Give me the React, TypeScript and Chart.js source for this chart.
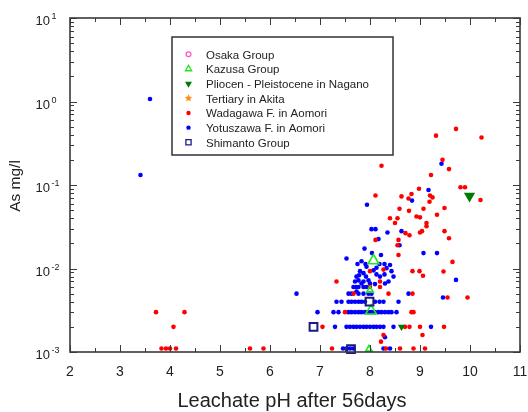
import React, { useEffect, useRef } from "react";
import { Chart, registerables } from "chart.js";

Chart.register(...registerables);

// ---------------- data ----------------
const xTickValues = [2, 3, 4, 5, 6, 7, 8, 9, 10, 11];
const xMinorTickValues = [2.5, 3.5, 4.5, 5.5, 6.5, 7.5, 8.5, 9.5, 10.5];
const yDecadeExponents = [-3, -2, -1, 0, 1];

const seriesLabels = [
  "Osaka Group",
  "Kazusa Group",
  "Pliocen - Pleistocene in Nagano",
  "Tertiary in Akita",
  "Wadagawa F. in Aomori",
  "Yotuszawa F. in Aomori",
  "Shimanto Group",
];

const osakaPH: number[] = [];
const osakaAs: number[] = [];

const kazusaPH = [8.07, 8.0, 8.02, 7.98];
const kazusaAs = [0.0124, 0.0055, 0.0031, 0.00108];

const pliocenPH = [9.99, 8.63];
const pliocenAs = [0.0736, 0.002];

const akitaPH: number[] = [];
const akitaAs: number[] = [];

const wadagawaPH = [
  9.32, 9.72, 10.23, 8.23, 9.45, 9.58, 9.22, 9.81, 9.9, 8.98,
  8.83, 9.2, 9.25, 8.11, 8.63, 8.77, 10.21, 9.19, 8.59, 9.07,
  9.49, 8.78, 9.34, 8.93, 9.0, 8.4, 8.55, 8.5, 9.13, 9.13,
  8.71, 8.79, 9.0, 9.04, 9.49, 8.11, 8.57, 9.58, 8.55, 8.57,
  9.65, 9.47, 8.85, 8.99, 9.06, 8.0, 8.27, 7.33, 8.2, 8.0,
  8.2, 7.67, 8.37, 8.85, 7.5, 8.83, 8.87, 7.05, 8.7, 8.79,
  9.0, 9.48, 9.55, 9.95, 9.05, 8.27, 8.22, 3.72, 4.29, 4.07,
  3.83, 3.92, 4.0, 4.12, 5.6, 5.87, 7.24, 8.32, 8.6, 8.87, 9.1,
];
const wadagawaAs = [
  0.39, 0.47, 0.37, 0.17, 0.2, 0.155, 0.132, 0.094, 0.094, 0.09,
  0.078, 0.075, 0.071, 0.075, 0.073, 0.069, 0.066, 0.063, 0.052, 0.052,
  0.053, 0.049, 0.044, 0.042, 0.041, 0.04, 0.04, 0.035, 0.035, 0.032,
  0.0265, 0.025, 0.027, 0.028, 0.028, 0.022, 0.022, 0.023, 0.019, 0.0145,
  0.012, 0.0092, 0.0093, 0.0093, 0.0082, 0.0093, 0.0097, 0.007, 0.007, 0.006,
  0.006, 0.005, 0.005, 0.005, 0.003, 0.003, 0.003, 0.002, 0.002, 0.002,
  0.002, 0.002, 0.0045, 0.0045, 0.0016, 0.0016, 0.00133, 0.003, 0.003, 0.002,
  0.0011, 0.0011, 0.0011, 0.0011, 0.0011, 0.0011, 0.0011, 0.0011, 0.0011, 0.0011, 0.0011,
];

const yotuszawaPH = [
  3.6, 3.41, 9.43, 9.17, 8.84, 7.94, 8.03, 8.11, 8.35, 8.63,
  8.17, 8.59, 7.89, 8.04, 8.22, 9.07, 9.34, 7.53,
  7.75, 7.91, 8.19, 8.29, 8.4, 7.83,
  7.93, 8.13, 8.33, 8.43, 7.8, 7.87, 8.07,
  7.73, 7.78, 7.92, 8.2, 8.29, 8.47, 8.13,
  7.7, 7.77, 7.87, 7.97, 8.37, 7.83, 8.0, 8.1, 8.3,
  7.67, 7.72, 7.77, 7.87, 7.93, 7.73,
  6.53, 7.57, 7.63, 7.77, 7.87, 7.97, 8.03, 8.77,
  7.33, 7.43, 7.57, 7.63, 7.7, 7.77, 7.83, 7.9, 8.1, 8.19, 8.27, 8.57,
  6.95, 7.27, 7.37, 7.57, 7.63, 7.7, 7.77, 7.83, 7.9, 7.97, 8.03, 8.1, 8.17, 8.23, 8.3, 8.37, 8.43, 8.53,
  7.3, 7.53, 7.6, 7.67, 7.73, 7.8, 7.87, 7.93, 8.0, 8.07, 8.13, 8.2, 8.27, 8.47, 9.22,
  8.3,
  7.46, 7.53, 7.6, 7.67, 8.27, 8.4,
  9.72, 9.46,
];
const yotuszawaAs = [
  1.07, 0.132, 0.18, 0.087, 0.065, 0.058, 0.0296, 0.0296, 0.027, 0.028,
  0.0225, 0.019, 0.0173, 0.0153, 0.0145, 0.0153, 0.0153, 0.0132,
  0.0113, 0.0113, 0.0113, 0.0113, 0.011, 0.0122,
  0.0105, 0.0102, 0.0101, 0.0093, 0.0093, 0.0088, 0.0095,
  0.008, 0.0083, 0.008, 0.008, 0.0085, 0.008, 0.0085,
  0.007, 0.0072, 0.007, 0.0072, 0.007, 0.0066, 0.0066, 0.0065, 0.0066,
  0.006, 0.006, 0.006, 0.006, 0.006, 0.0053,
  0.005, 0.005, 0.005, 0.005, 0.005, 0.005, 0.005, 0.005,
  0.004, 0.004, 0.004, 0.004, 0.004, 0.004, 0.004, 0.004, 0.004, 0.004, 0.004, 0.004,
  0.003, 0.003, 0.003, 0.003, 0.003, 0.003, 0.003, 0.003, 0.003, 0.003, 0.003, 0.003, 0.003, 0.003, 0.003, 0.003, 0.003, 0.003,
  0.002, 0.002, 0.002, 0.002, 0.002, 0.002, 0.002, 0.002, 0.002, 0.002, 0.002, 0.002, 0.002, 0.002, 0.002,
  0.0015,
  0.0011, 0.0011, 0.0011, 0.0011, 0.0011, 0.0011,
  0.0073, 0.0045,
];

const shimantoPH = [6.87, 7.99, 7.62];
const shimantoAs = [0.002, 0.004, 0.00108];

// ---------------- styling ----------------
const FONT = '"Liberation Sans", Arial, Helvetica, sans-serif';
const PINK = "#ff55cc";
const GREEN = "#22e622";
const DKGREEN = "#007a00";
const ORANGE = "#ff8c1a";
const RED = "#ff0000";
const BLUE = "#0000ff";
const NAVY = "#1c1c80";
const AXIS = "#3a3a3a";
const TEXT = "#222222";

const toXY = (xs: number[], ys: number[]) => xs.map((x, i) => ({ x, y: ys[i] }));

type MarkerKind = "ring" | "triUp" | "triDown" | "star" | "dot" | "square";
const legendMarkers: { kind: MarkerKind; color: string }[] = [
  { kind: "ring", color: PINK },
  { kind: "triUp", color: GREEN },
  { kind: "triDown", color: DKGREEN },
  { kind: "star", color: ORANGE },
  { kind: "dot", color: RED },
  { kind: "dot", color: BLUE },
  { kind: "square", color: NAVY },
];

function drawMarker(ctx: CanvasRenderingContext2D, kind: MarkerKind, color: string, x: number, y: number) {
  ctx.save();
  ctx.strokeStyle = color;
  ctx.fillStyle = color;
  ctx.lineWidth = 1.3;
  ctx.beginPath();
  if (kind === "ring") {
    ctx.arc(x, y, 2.4, 0, Math.PI * 2);
    ctx.stroke();
  } else if (kind === "triUp") {
    const r = 3.6;
    ctx.moveTo(x, y - r);
    ctx.lineTo(x + r * 0.866, y + r * 0.5);
    ctx.lineTo(x - r * 0.866, y + r * 0.5);
    ctx.closePath();
    ctx.stroke();
  } else if (kind === "triDown") {
    const r = 4;
    ctx.moveTo(x, y + r);
    ctx.lineTo(x + r * 0.866, y - r * 0.5);
    ctx.lineTo(x - r * 0.866, y - r * 0.5);
    ctx.closePath();
    ctx.fill();
  } else if (kind === "star") {
    const R = 4, rr = 1.8;
    for (let i = 0; i < 10; i++) {
      const ang = -Math.PI / 2 + (i * Math.PI) / 5;
      const rad = i % 2 === 0 ? R : rr;
      const px = x + Math.cos(ang) * rad;
      const py = y + Math.sin(ang) * rad;
      if (i === 0) ctx.moveTo(px, py);
      else ctx.lineTo(px, py);
    }
    ctx.closePath();
    ctx.fill();
  } else if (kind === "dot") {
    ctx.arc(x, y, 2.2, 0, Math.PI * 2);
    ctx.fill();
  } else if (kind === "square") {
    ctx.rect(x - 2.6, y - 2.6, 5.2, 5.2);
    ctx.stroke();
  }
  ctx.restore();
}

const framePlugin = {
  id: "framePlugin",
  afterDraw(chart: any) {
    const { ctx, chartArea: a, scales } = chart;
    const xs = scales.x;
    const ys = scales.y;
    ctx.save();

    // ticks (inward, all four sides)
    ctx.strokeStyle = AXIS;
    ctx.lineWidth = 1;
    ctx.beginPath();
    const MAJ = 7, MIN = 4;
    for (const v of xTickValues) {
      const px = Math.round(xs.getPixelForValue(v)) + 0.5;
      ctx.moveTo(px, a.bottom); ctx.lineTo(px, a.bottom - MAJ);
      ctx.moveTo(px, a.top); ctx.lineTo(px, a.top + MAJ);
    }
    for (const v of xMinorTickValues) {
      const px = Math.round(xs.getPixelForValue(v)) + 0.5;
      ctx.moveTo(px, a.bottom); ctx.lineTo(px, a.bottom - MIN);
      ctx.moveTo(px, a.top); ctx.lineTo(px, a.top + MIN);
    }
    for (const e of yDecadeExponents) {
      const base = Math.pow(10, e);
      const py = Math.round(ys.getPixelForValue(base)) + 0.5;
      ctx.moveTo(a.left, py); ctx.lineTo(a.left + MAJ, py);
      ctx.moveTo(a.right, py); ctx.lineTo(a.right - MAJ, py);
      if (e < 1) {
        for (let m = 2; m <= 9; m++) {
          const pm = Math.round(ys.getPixelForValue(m * base)) + 0.5;
          ctx.moveTo(a.left, pm); ctx.lineTo(a.left + MIN, pm);
          ctx.moveTo(a.right, pm); ctx.lineTo(a.right - MIN, pm);
        }
      }
    }
    ctx.stroke();

    // frame
    ctx.lineWidth = 1.6;
    ctx.strokeRect(a.left, a.top, a.right - a.left, a.bottom - a.top);

    // x tick labels
    ctx.fillStyle = TEXT;
    ctx.font = `14px ${FONT}`;
    ctx.textAlign = "center";
    ctx.textBaseline = "alphabetic";
    for (const v of xTickValues) {
      ctx.fillText(String(v), xs.getPixelForValue(v), a.bottom + 24);
    }

    // y tick labels 10^n
    for (const e of yDecadeExponents) {
      const py = ys.getPixelForValue(Math.pow(10, e));
      ctx.font = `13px ${FONT}`;
      ctx.textAlign = "right";
      ctx.fillText("10", a.left - 20, py + 7);
      ctx.font = `9px ${FONT}`;
      ctx.textAlign = "left";
      ctx.fillText(String(e), a.left - 18.5, py + 1);
    }

    // axis titles
    ctx.font = `20px ${FONT}`;
    ctx.textAlign = "center";
    ctx.fillText("Leachate pH after 56days", (a.left + a.right) / 2 - 3, a.bottom + 55);

    ctx.save();
    ctx.translate(19.5, (a.top + a.bottom) / 2 + 1);
    ctx.rotate(-Math.PI / 2);
    ctx.font = `15.5px ${FONT}`;
    ctx.textAlign = "center";
    ctx.fillText("As mg/l", 0, 0);
    ctx.restore();

    // legend box
    const lx = 172, ly = 37, lw = 221, lh = 118;
    ctx.fillStyle = "#ffffff";
    ctx.fillRect(lx, ly, lw, lh);
    ctx.strokeStyle = "#333333";
    ctx.lineWidth = 1.5;
    ctx.strokeRect(lx, ly, lw, lh);
    ctx.font = `11.5px ${FONT}`;
    ctx.textAlign = "left";
    ctx.fillStyle = TEXT;
    seriesLabels.forEach((label, i) => {
      const ry = ly + 17.3 + i * 14.67;
      drawMarker(ctx, legendMarkers[i].kind, legendMarkers[i].color, lx + 16.5, ry);
      ctx.fillStyle = TEXT;
      ctx.fillText(label, lx + 34, ry + 4.2);
    });

    ctx.restore();
  },
};

export default function App() {
  const canvasRef = useRef<HTMLCanvasElement | null>(null);

  useEffect(() => {
    if (!canvasRef.current) return;
    const transparent = "rgba(0,0,0,0)";
    const chart = new Chart(canvasRef.current, {
      type: "scatter",
      data: {
        datasets: [
          {
            label: seriesLabels[6],
            data: toXY(shimantoPH, shimantoAs),
            pointStyle: "rect",
            pointRadius: 5.5,
            pointBorderColor: NAVY,
            pointBackgroundColor: transparent,
            pointBorderWidth: 2,
            order: 0,
            clip: false,
          },
          {
            label: seriesLabels[1],
            data: toXY(kazusaPH, kazusaAs),
            pointStyle: "triangle",
            pointRadius: (c: any) => (c.dataIndex === 0 || c.dataIndex === 2 ? 6.2 : 3.8),
            pointBorderColor: GREEN,
            pointBackgroundColor: transparent,
            pointBorderWidth: 1.6,
            order: 1,
            clip: false,
          },
          {
            label: seriesLabels[2],
            data: toXY(pliocenPH, pliocenAs),
            pointStyle: "triangle",
            pointRotation: 180,
            pointRadius: (c: any) => (c.dataIndex === 0 ? 6.5 : 4.2),
            pointBorderColor: DKGREEN,
            pointBackgroundColor: DKGREEN,
            pointBorderWidth: 0,
            order: 2,
            clip: false,
          },
          {
            label: seriesLabels[0],
            data: toXY(osakaPH, osakaAs),
            pointStyle: "circle",
            pointRadius: 3,
            pointBorderColor: PINK,
            pointBackgroundColor: transparent,
            pointBorderWidth: 1.3,
            order: 3,
          },
          {
            label: seriesLabels[3],
            data: toXY(akitaPH, akitaAs),
            pointStyle: "star",
            pointRadius: 4,
            pointBorderColor: ORANGE,
            pointBackgroundColor: ORANGE,
            pointBorderWidth: 1.3,
            order: 4,
          },
          {
            label: seriesLabels[4],
            data: toXY(wadagawaPH, wadagawaAs),
            pointStyle: "circle",
            pointRadius: 2.3,
            pointBorderColor: RED,
            pointBackgroundColor: RED,
            pointBorderWidth: 0,
            order: 5,
            clip: false,
          },
          {
            label: seriesLabels[5],
            data: toXY(yotuszawaPH, yotuszawaAs),
            pointStyle: "circle",
            pointRadius: 2.3,
            pointBorderColor: BLUE,
            pointBackgroundColor: BLUE,
            pointBorderWidth: 0,
            order: 6,
            clip: false,
          },
        ] as any,
      },
      options: {
        animation: false,
        responsive: false,
        maintainAspectRatio: false,
        devicePixelRatio: 1,
        layout: { padding: { left: 70, top: 18, right: 8, bottom: 60 } },
        plugins: {
          legend: { display: false },
          tooltip: { enabled: false },
          title: { display: false },
        },
        scales: {
          x: { type: "linear", min: 2, max: 11, display: false },
          y: { type: "logarithmic", min: 0.001, max: 10, display: false },
        },
        events: [],
      },
      plugins: [framePlugin],
    });
    return () => chart.destroy();
  }, []);

  return (
    <div style={{ position: "absolute", left: 0, top: 0, width: 528, height: 412, background: "#ffffff" }}>
      <canvas ref={canvasRef} width={528} height={412} style={{ display: "block" }} />
    </div>
  );
}
